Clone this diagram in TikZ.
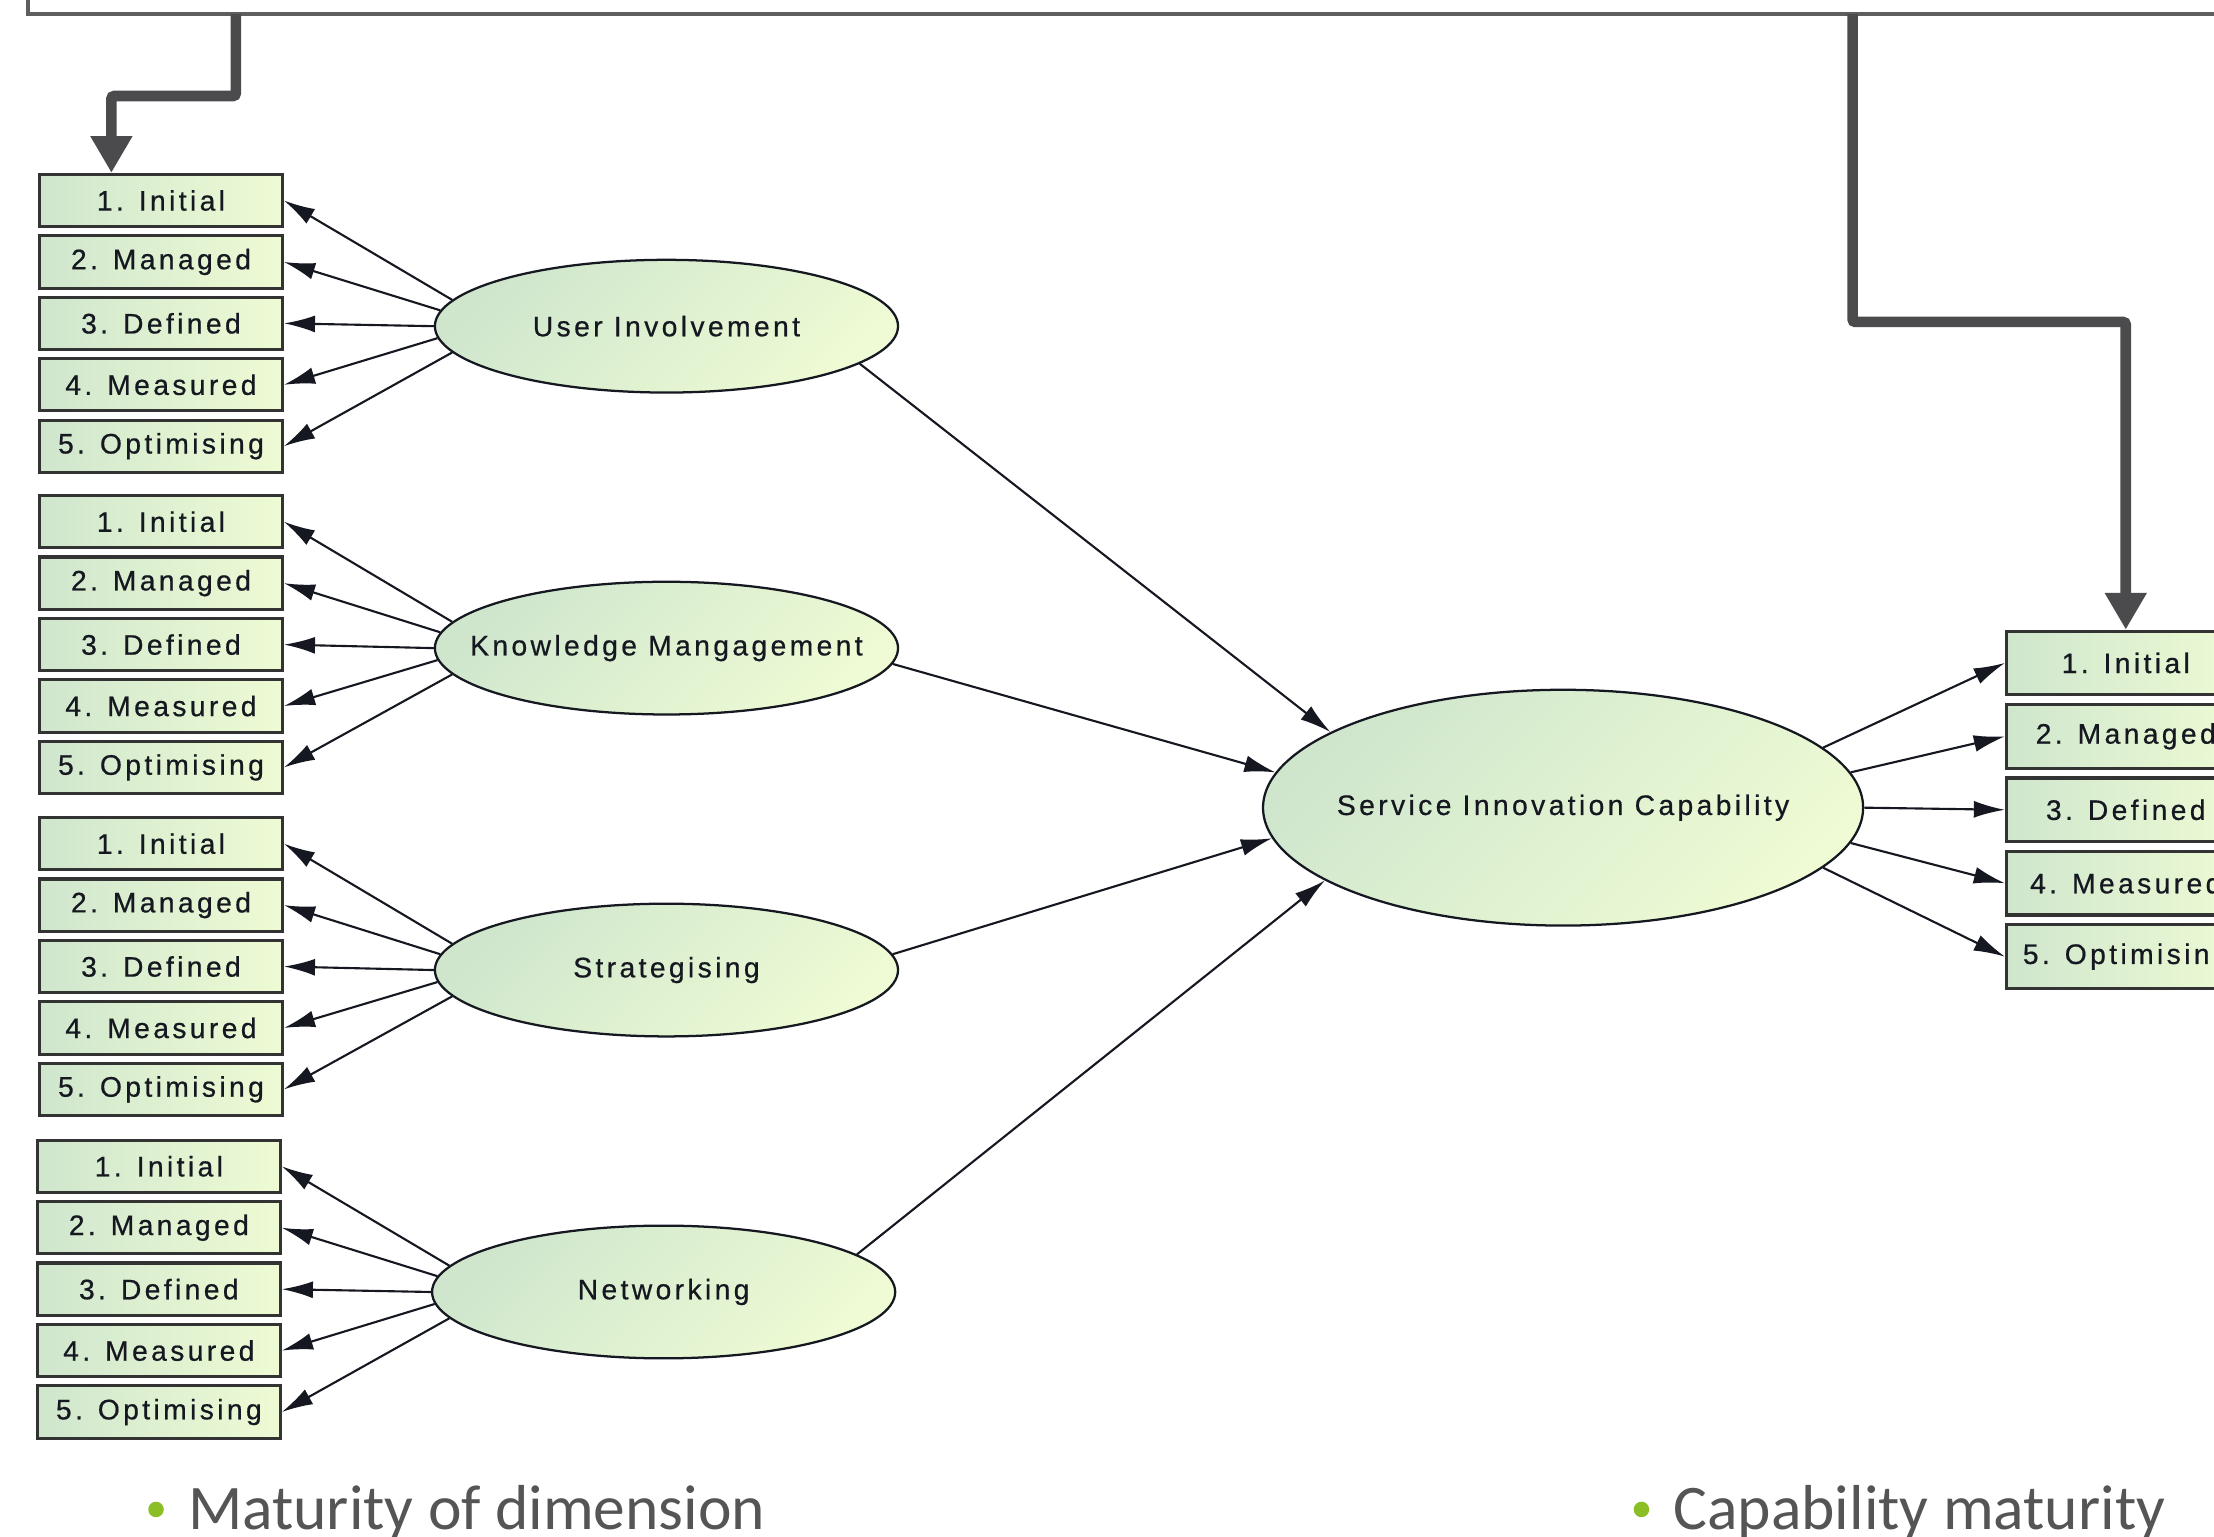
\documentclass[tikz,border=0pt]{standalone}
\usepackage{fontspec}
\setmainfont{Liberation Sans}
\newfontfamily\diagfont[LetterSpace=12,FakeBold=0.6]{Liberation Sans}
\newfontfamily\slidefont{Carlito}
\usetikzlibrary{arrows.meta,shapes.geometric,calc}

\definecolor{ink}{HTML}{151820}
\definecolor{boxL}{HTML}{CFE6CD}
\definecolor{boxR}{HTML}{EEFBD4}
\definecolor{rim}{HTML}{333333}
\definecolor{wire}{HTML}{4B4B4D}
\definecolor{framegray}{HTML}{5E5E5E}
\definecolor{bulletgreen}{HTML}{8CBF26}
\definecolor{slidetext}{HTML}{555555}

\tikzset{
  level/.style={draw=rim, line width=2.2pt, left color=boxL, right color=boxR,
    minimum width=172pt, minimum height=37pt, inner sep=0pt,
    font=\diagfont\fontsize{20}{23}\selectfont, text=ink},
  rlevel/.style={level, minimum width=169pt, minimum height=45pt},
  latent/.style={ellipse, draw=ink, line width=1.6pt,
    top color=boxL, bottom color=boxR, shading angle=45,
    minimum width=328pt, minimum height=94pt, inner sep=0pt,
    font=\diagfont\fontsize{20}{23}\selectfont, text=ink},
  link/.style={draw=ink, line width=1.5pt, -{Latex[length=22pt,width=12pt]}},
  bigarrow/.style={draw=wire, line width=7.5pt, rounded corners=2pt,
    -{Triangle[length=26pt,width=28pt]}},
  frameline/.style={draw=framegray, line width=2.5pt},
  slide/.style={font=\slidefont\fontsize{45}{54}\selectfont, text=slidetext, inner sep=0pt},
  dot/.style={circle, fill=bulletgreen, minimum size=11pt, inner sep=0pt},
}

\newcommand{\ztext}[1]{\makebox[0pt][c]{#1}}

\begin{document}
\begin{tikzpicture}[x=1pt,y=-1pt]
\path[use as bounding box] (0,0) rectangle (1568,1088);
\clip (0,0) rectangle (1568,1088);

% frame of the upper panel
\draw[frameline] (20,-20) -- (20,10) -- (1600,10);
\coordinate (frameL) at (167,10);
\coordinate (frameR) at (1312,10);

% dimensions
\node[latent] (ui) at (472,231) {\ztext{User Involvement}};
\node[latent] (km) at (472,459) {\ztext{Knowledge Mangagement}};
\node[latent] (st) at (472,687) {\ztext{Strategising}};
\node[latent] (nw) at (470,915) {\ztext{Networking}};

% overall capability
\node[latent, minimum width=425pt, minimum height=167pt] (sic) at (1107,572)
  {\ztext{Service Innovation Capability}};

% maturity levels of each dimension
\foreach \g/\bx/\by in {ui/114/142, km/114/369.5, st/114/597.5, nw/112.5/826}{
  \foreach \t [count=\i] in {1. Initial, 2. Managed, 3. Defined, 4. Measured, 5. Optimising}{
    \node[level] (\g\i) at (\bx,\by+43.5*\i-43.5) {\t};
  }
  \foreach \i/\a in {1/173,2/176.2,3/180,4/183.8,5/187}{
    \draw[link] (\g.\a) -- (\g\i.east);
  }
}

% capability maturity levels
\foreach \t [count=\i] in {1. Initial, 2. Managed, 3. Defined, 4. Measured, 5. Optimising}{
  \node[rlevel] (c\i) at (1505.5,469.5+52*\i-52) {\t};
}
\foreach \i/\a in {1/13.5,2/7.3,3/0,4/-7.5,5/-13.7}{
  \draw[link] (sic.\a) -- (c\i.west);
}

% dimensions feeding the capability
\draw[link] (ui.-11.5) -- (sic.162.8);
\draw[link] (km.-4.5) -- (sic.173.5);
\draw[link] (st.4.5) -- (sic.186.8);
\draw[link] (nw.11) -- (sic.197.5);

% pointers from the upper panel
\draw[bigarrow] (frameL) -- (frameL |- 0,68) -| ($(ui1.north west)+(52,0)$);
\draw[bigarrow] (frameR) -- (frameR |- 0,228) -| (c1.north);

% captions
\node[dot] (d1) at (110.5,1069) {};
\node[slide, anchor=base west] (cap1) at (133,1083) {Maturity of dimension};
\node[dot] (d2) at (1162.5,1069) {};
\node[slide, anchor=base west] (cap2) at (1185,1083) {Capability maturity};
\end{tikzpicture}
\end{document}
